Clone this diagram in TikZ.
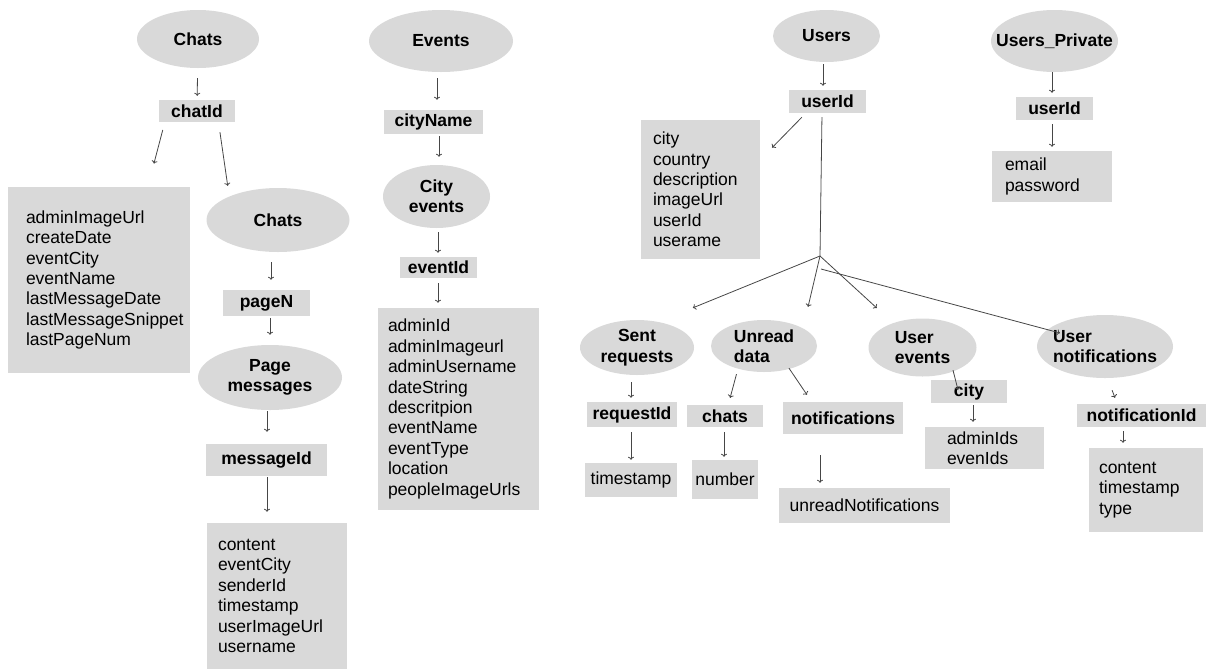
\documentclass[tikz,border=0pt]{standalone}
\usepackage{fontspec}
\setmainfont{Liberation Sans}
\usetikzlibrary{shapes.geometric,arrows.meta}
\definecolor{boxgray}{RGB}{217,217,217}
\definecolor{linegray}{RGB}{70,70,70}
\begin{document}
\begin{tikzpicture}[x=1pt,y=-1pt,
  tbl/.style={ellipse,fill=boxgray,inner sep=0pt,align=center,font=\fontsize{17.5}{20.4}\selectfont\bfseries},
  keybox/.style={fill=boxgray,inner sep=0pt,font=\fontsize{17.5}{20.4}\selectfont\bfseries},
  fieldbox/.style={fill=boxgray,inner ysep=0pt,align=left,font=\fontsize{17.5}{20.4}\selectfont},
  conn/.style={draw=linegray,line width=0.8pt,-{To[length=3pt,width=6pt]}},
  branch/.style={draw=linegray,line width=0.8pt}]
\useasboundingbox (0,0) rectangle (1206,670);
\node[tbl,minimum width=122,minimum height=58] (chats) at (198,39) {Chats};
\node[keybox,minimum width=76,minimum height=22] (chatid) at (197,111) {chatId};
\node[fieldbox,minimum height=186,inner xsep=18,text width=146] (chatflds) at (99,280) {adminImageUrl\\createDate\\eventCity\\eventName\\lastMessageDate\\lastMessageSnippet\\lastPageNum};
\node[tbl,minimum width=143,minimum height=64] (chats2) at (278,220) {Chats};
\node[keybox,minimum width=87,minimum height=26] (pagen) at (266.5,303) {pageN};
\node[tbl,minimum width=144,minimum height=65] (pagemsgs) at (270,377.5) {Page\\messages};
\node[keybox,minimum width=121,minimum height=32] (msgid) at (266.5,460) {messageId};
\node[fieldbox,minimum height=146,inner xsep=11,text width=118] (msgflds) at (277,596) {content\\eventCity\\senderId\\timestamp\\userImageUrl\\username};
\node[tbl,minimum width=144,minimum height=62] (events) at (441,41) {Events};
\node[keybox,minimum width=99,minimum height=24] (cityname) at (433.5,122) {cityName};
\node[tbl,minimum width=107,minimum height=63] (cityev) at (436.5,196.5) {City\\events};
\node[keybox,minimum width=77,minimum height=21] (eventid) at (438.5,267.5) {eventId};
\node[fieldbox,minimum height=202,inner xsep=10,text width=141] (evflds) at (458.5,409) {adminId\\adminImageurl\\adminUsername\\dateString\\descritpion\\eventName\\eventType\\location\\peopleImageUrls};
\node[tbl,minimum width=107,minimum height=52] (users) at (826.5,36) {Users};
\node[keybox,minimum width=77,minimum height=23] (userid) at (827.5,101.5) {userId};
\node[fieldbox,minimum height=139,inner xsep=12,text width=95] (usrflds) at (700.5,189.5) {city\\country\\description\\imageUrl\\userId\\userame};
\node[tbl,minimum width=114,minimum height=55] (sentreq) at (637,347.5) {Sent\\requests};
\node[keybox,minimum width=90,minimum height=25] (reqid) at (632,414.5) {requestId};
\node[fieldbox,minimum width=92,minimum height=34,inner xsep=0] (reqflds) at (631,480) {timestamp};
\node[tbl,minimum width=106,minimum height=52,align=left] (unread) at (764,346) {Unread\\data};
\node[keybox,minimum width=76,minimum height=22] (unchats) at (725,416) {chats};
\node[keybox,minimum width=120,minimum height=32] (unnotif) at (843,418) {notifications};
\node[fieldbox,minimum width=66,minimum height=39,inner xsep=0] (number) at (725,479.5) {number};
\node[fieldbox,minimum width=171,minimum height=35,inner xsep=0] (unreadnotif) at (864.5,505.5) {unreadNotifications};
\node[tbl,minimum width=108,minimum height=58,align=left] (userev) at (922.5,347.5) {User\\events};
\node[keybox,minimum width=76,minimum height=23] (evcity) at (969,391.5) {city};
\node[fieldbox,minimum height=42,inner xsep=22,text width=75] (evcityflds) at (984.5,448) {adminIds\\evenIds};
\node[tbl,minimum width=136,minimum height=63,align=left,inner xsep=-15pt] (usernotif) at (1105,346.5) {User\\notifications};
\node[keybox,minimum width=129,minimum height=23] (notifid) at (1141.5,415.5) {notificationId};
\node[fieldbox,minimum height=84,inner xsep=10,text width=94] (notifflds) at (1146,490) {content\\timestamp\\type};
\node[tbl,minimum width=127,minimum height=62,inner xsep=-15pt] (uprivate) at (1054.5,41) {Users\_Private};
\node[keybox,minimum width=77,minimum height=23] (upuserid) at (1054.5,108.5) {userId};
\node[fieldbox,minimum height=51,inner xsep=13,text width=94] (upflds) at (1052,176.5) {email\\password};
\coordinate (usrfork) at (820,256);
\coordinate (notifroot) at (821,269);
\draw[conn,shorten <=10pt,shorten >=4pt] (chats) -- (chatid);
\draw[conn,shorten <=8pt,shorten >=24pt] ([xshift=6pt]chatid.south west) -- ([xshift=140pt]chatflds.north west);
\draw[conn,shorten <=10pt,shorten >=2pt] ([xshift=21.5pt]chatid.south) -- ([xshift=-50pt]chats2.north);
\draw[conn,shorten <=10pt,shorten >=10pt] ([xshift=-7pt]chats2.south) -- ([xshift=4.5pt]pagen.north);
\draw[conn,shorten <=2pt,shorten >=10pt] ([xshift=3.5pt]pagen.south) -- (pagemsgs.north);
\draw[conn,shorten <=1pt,shorten >=12pt] ([xshift=-3pt]pagemsgs.south) -- ([xshift=0.5pt]msgid.north);
\draw[conn,shorten <=1pt,shorten >=11pt] ([xshift=0.5pt]msgid.south) -- ([xshift=-10pt]msgflds.north);
\draw[conn,shorten <=6pt,shorten >=10pt] ([xshift=-4pt]events.south) -- ([xshift=3.5pt]cityname.north);
\draw[conn,shorten <=2pt,shorten >=8pt] ([xshift=5.5pt]cityname.south) -- ([xshift=2.5pt]cityev.north);
\draw[conn,shorten <=4pt,shorten >=4pt] ([xshift=1.5pt]cityev.south) -- ([xshift=-0.5pt]eventid.north);
\draw[conn,shorten <=5pt,shorten >=5pt] ([xshift=-0.5pt]eventid.south) -- ([xshift=-20.5pt]evflds.north);
\draw[conn,shorten <=2pt,shorten >=4pt] ([xshift=-3.5pt]users.south) -- ([xshift=-4.5pt]userid.north);
\draw[conn,shorten <=5.7pt,shorten >=17pt] ([xshift=17pt]userid.south west) -- ([yshift=-40pt]usrflds.north east);
\draw[branch,shorten <=4pt] ([xshift=-5.5pt]userid.south) -- (usrfork);
\draw[conn,shorten >=31.7pt] (usrfork) -- ([xshift=26.5pt]sentreq.north);
\draw[conn,shorten >=13.3pt] (usrfork) -- ([xshift=41pt]unread.north);
\draw[conn,shorten >=15.2pt] (usrfork) -- ([xshift=-34.5pt]userev.north);
\draw[conn] (notifroot) -- ([xshift=-45pt,yshift=13.5pt]usernotif.center);
\draw[conn,shorten <=7pt,shorten >=4pt] ([xshift=-6pt]sentreq.south) -- ([xshift=-1pt]reqid.north);
\draw[conn,shorten <=5pt,shorten >=3pt] ([xshift=-1pt]reqid.south) -- (reqflds.north);
\draw[conn,shorten <=2pt,shorten >=7.2pt] ([xshift=-27pt]unread.south) -- ([xshift=3.25pt]unchats.north);
\draw[conn,shorten >=8.4pt] ([xshift=25pt,yshift=4pt]unread.south) -- ([xshift=-31.3pt]unnotif.north);
\draw[conn,shorten <=5pt,shorten >=3pt] ([xshift=-1pt]unchats.south) -- ([xshift=-1pt]number.north);
\draw[conn,shorten <=21pt,shorten >=5pt] ([xshift=-23pt]unnotif.south) -- ([xshift=-44.5pt]unreadnotif.north);
\draw[conn] ([xshift=30.5pt,yshift=6.5pt]userev.south) -- ([xshift=-11pt,yshift=1.5pt]evcity.center);
\draw[conn,shorten <=2pt,shorten >=5pt] ([xshift=4pt]evcity.south) -- ([xshift=-11.5pt]evcityflds.north);
\draw[conn,shorten <=12.8pt,shorten >=6.4pt] ([xshift=2.5pt]usernotif.south) -- ([xshift=-24.25pt]notifid.north);
\draw[conn,shorten <=4pt,shorten >=5pt] ([xshift=-18.5pt]notifid.south) -- ([xshift=-23pt]notifflds.north);
\draw[conn,shorten >=4pt] ([xshift=-2.5pt]uprivate.south) -- ([xshift=-2.5pt]upuserid.north);
\draw[conn,shorten <=4pt,shorten >=4pt] ([xshift=-2.5pt]upuserid.south) -- (upflds.north);
\end{tikzpicture}
\end{document}
